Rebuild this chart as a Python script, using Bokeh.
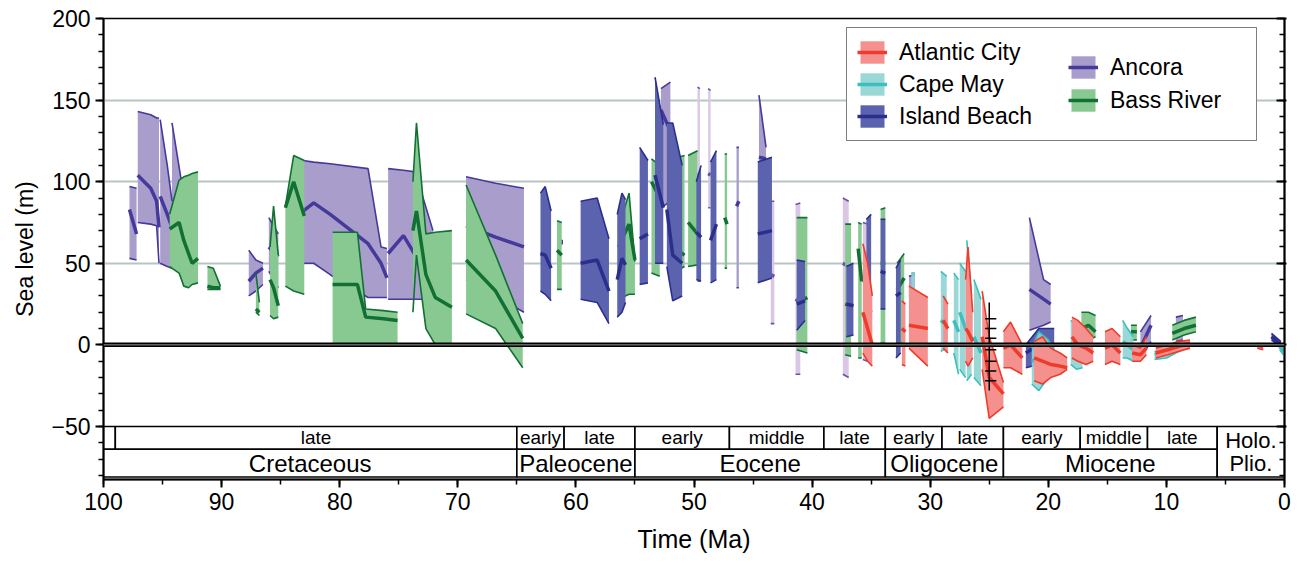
from bokeh.plotting import figure
from bokeh.models import Range1d, LinearAxis, FixedTicker, Legend, LegendItem, Span
from bokeh.embed import file_html
from bokeh.resources import INLINE
from bokeh.core.properties import value

FONT = "Liberation Sans"

# ---------------- data: each segment = ages, lower bound, best estimate, upper bound ----------------
ancora_age = [[97.8, 97.2], [97.1, 96.0, 95.5, 95.3], [95.2, 94.6, 94.2], [94.2, 93.4],
              [87.7, 87.1, 86.5], [86.0, 85.2], [83.1, 82.2, 80.8, 77.6, 76.5, 76.0],
              [75.9, 74.6, 73.6, 72.1], [69.3, 66.8, 64.4], [61.4, 61.1], [52.8, 52.0],
              [46.4, 46.2], [44.5, 43.9], [31.8, 31.3], [21.6, 20.4, 19.8], [12.2, 11.3], [9.2, 8.6]]
ancora_lo = [[53, 52], [75, 74, 73, 50], [50, 48, 47], [47, 46],
             [30, 33, 37], [45, 35], [50, 50, 43, 29, 29, 29],
             [28, 28, 28, 28], [40, 30, 20], [62, 62], [84, 88],
             [35, 35], [112, 112], [5, 5], [9, 12, 14], [-8, 2], [2, 3]]
ancora_mid = [[83, 68], [104, 96, 88, 72], [91, 80, 72], [72, 70],
              [39, 44, 47], [60, 54], [82, 87, 80, 62, 50, 41],
              [56, 67, 55, 45], [73, 66, 60], [63, 63], [144, 131],
              [85, 88], [115, 114], [30, 30], [34, 28, 25], [-2, 12], [11, 12]]
ancora_hi = [[97, 96], [143, 141, 139, 139], [138, 110, 88], [136, 100],
             [58, 52, 50], [78, 68], [113, 112, 111, 108, 60, 59],
             [108, 107, 106, 70], [103, 99, 96], [64, 64], [157, 161],
             [121, 121], [153, 121], [42, 43], [78, 40, 37], [8, 18], [17, 18]]

ancora_pale_age = [[49.7, 49.5], [48.8, 48.6], [43.5, 43.2], [41.4, 41.0], [37.4, 36.9], [35.7, 35.3]]
ancora_pale_lo = [[39, 39], [84, 84], [13, 13], [-18, -18], [-18, -20], [-9, -10]]
ancora_pale_mid = [[105, 104], [105, 104], [43, 42], [28, 26], [50, 48], [40, 36]]
ancora_pale_hi = [[158, 157], [157, 156], [88, 88], [86, 87], [90, 88], [75, 74]]

bass_age = [[94.4, 93.6, 93.2, 92.8, 92.5, 92.0], [91.2, 90.7, 90.1], [87.1, 86.8], [85.9, 85.6, 85.2],
            [84.6, 83.9, 83.0], [80.6, 78.5, 77.8, 76.3, 75.1], [73.8, 73.5, 72.7, 71.9, 70.5],
            [69.3, 66.8, 64.5], [61.6, 61.2], [56.4, 55.5, 55.0], [53.6, 52.9], [51.8, 50.8],
            [50.5, 49.7], [47.4, 47.2], [41.3, 40.4], [37.2, 36.7], [36.1, 35.8], [34.2, 33.8],
            [32.8, 32.2], [17.2, 16.6, 16.0], [13.0, 12.5], [9.5, 8.5, 7.5]]
bass_lo = [[48, 44, 36, 35, 37, 38], [34, 34, 34], [20, 18], [18, 16, 17],
           [36, 33, 31], [0, 0, 0, 0, 0], [20, 55, 10, 0, 0],
           [19, 10, -14], [34, 34], [28, 31, 31], [44, 42], [44, 48],
           [48, 49], [47, 47], [-3, -5], [-6, -7], [-8, -8], [1, 1],
           [0, 2], [2, 3, 5], [3, 3], [3, 6, 8]]
bass_mid = [[71, 75, 64, 56, 50, 53], [36, 35, 35], [22, 20], [40, 35, 24],
            [84, 100, 79], [37, 37, 17, 16, 15], [70, 82, 43, 29, 23],
            [52, 33, 4], [58, 55], [60, 74, 52], [100, 90], [60, 55],
            [75, 68], [78, 74], [26, 29], [25, 24], [59, 39], [50, 50],
            [34, 41], [10, 12, 8], [8, 8], [7, 10, 12]]
bass_hi = [[80, 101, 103, 104, 105, 106], [48, 47, 36], [44, 26], [60, 85, 55],
           [85, 116, 113], [69, 69, 22, 21, 20], [100, 136, 68, 69, 70],
           [98, 55, 13], [76, 75], [71, 93, 51], [114, 110], [114, 116],
           [116, 119], [117, 117], [78, 78], [74, 74], [75, 74], [83, 84],
           [50, 56], [20, 20, 18], [12, 12], [12, 15, 17]]

island_age = [[63.0, 62.6, 62.1], [59.6, 58.2, 57.2], [56.5, 56.1, 55.8], [54.6, 53.9], [53.3, 52.6],
              [52.3, 51.8, 51.0], [49.8, 49.4], [48.6, 48.1], [44.6, 43.4], [41.3, 40.6],
              [37.1, 36.5], [35.4, 35.0], [34.2, 33.8], [32.9, 32.5], [21.9, 20.8, 19.5], [1.1, 0.3]]
island_lo = [[33, 31, 27], [28, 26, 13], [17, 20, 26], [37, 38], [50, 50],
             [48, 27, 30], [40, 39], [38, 40], [38, 41], [9, 15],
             [5, 6], [-9, -8], [22, 22], [-8, -5], [-14, -12, -10], [3, -1]]
island_mid = [[56, 55, 47], [50, 52, 33], [40, 53, 49], [65, 68], [104, 84],
              [83, 55, 50], [69, 66], [64, 74], [68, 70], [25, 27],
              [25, 24], [25, 20], [45, 44], [30, 32], [-5, 0, 0], [5, 0]]
island_hi = [[93, 97, 82], [88, 90, 65], [80, 93, 89], [121, 113], [164, 135],
             [136, 136, 110], [100, 110], [112, 119], [112, 115], [52, 51],
             [48, 50], [77, 80], [77, 77], [47, 52], [0, 10, 10], [7, 2]]

cape_age = [[31.6, 31.3], [29.1, 28.6], [28.0, 27.6], [27.5, 27.0], [26.9, 26.5], [26.3, 25.7],
            [21.4, 20.8, 20.0, 19.5], [18.1, 17.6, 17.1], [13.7, 13.3, 12.8],
            [11.0, 10.0, 9.2, 8.3], [0.4, 0.1]]
cape_lo = [[20, 20], [-4, -2], [-5, -18], [-15, -20], [-22, -18], [-20, -25],
           [-24, -28, -20, -18], [-12, -15, -14], [-8, -8, -10],
           [-9, -8, -5, -2], [-3, -6]]
cape_mid = [[30, 28], [15, 12], [15, 8], [20, 10], [12, 4], [5, -5],
            [-10, -8, -12, -10], [0, -3, -5], [2, 0, -3],
            [-6, -4, -2, 0], [-1, -4]]
cape_hi = [[44, 44], [45, 42], [44, 40], [50, 45], [64, 30], [40, 28],
           [-2, 8, 3, -3], [15, 12, 8], [15, 10, 5],
           [-4, -2, 0, 2], [0, -3]]

atlantic_age = [[35.7, 35.3, 34.9], [32.4, 32.1], [31.8, 30.2], [28.9, 28.5], [27.0, 26.8, 26.4],
                [25.6, 25.0, 23.8], [23.8, 23.2, 22.2], [21.2, 20.5, 19.8, 19.0, 18.4],
                [18.0, 17.5, 16.8, 16.2], [15.2, 14.6, 13.9], [12.9, 12.2, 11.7],
                [10.9, 9.9, 9.0, 8.0], [2.3, 1.8]]
atlantic_lo = [[-5, -10, -13], [-12, -13], [-2, -13], [-2, -5], [-10, -13, -8],
               [-15, -45, -38], [-14, -14, -18], [-22, -24, -20, -18, -15],
               [-8, -10, -12, -10], [-12, -10, -12], [-10, -10, -6],
               [-8, -6, -4, -2], [-2, -3]]
atlantic_mid = [[20, 10, 0], [10, 8], [12, 10], [15, 10], [10, 8, 2],
                [5, -20, -30], [-2, 0, -8], [-8, -10, -12, -13, -14],
                [5, 0, -2, -5], [-2, 0, -5], [-5, -6, -2],
                [-5, -3, -1, 1], [0, -1]]
atlantic_hi = [[62, 50, 30], [27, 25], [36, 29], [30, 25], [40, 60, 20],
               [33, 5, -23], [8, 14, 0], [2, 5, -2, -5, -8],
               [17, 15, 10, 5], [8, 10, 5], [0, -2, 5],
               [-2, 0, 2, 3], [1, 0]]

# black reference bar near 25 Ma
bar_age = 25.0
bar_bottom, bar_top = -28, 26
bar_ticks = [16, 10, 4, -3, -10, -16, -22]

# geologic time scale
stage_names = ["", "late", "early", "late", "early", "middle", "late", "early", "late", "early", "middle", "late"]
stage_start = [100, 99, 65, 61, 55, 47, 39, 33.8, 29, 23.8, 17.3, 11.6]
stage_end = [99, 65, 61, 55, 47, 39, 33.8, 29, 23.8, 17.3, 11.6, 5.7]
epoch_names = ["Cretaceous", "Paleocene", "Eocene", "Oligocene", "Miocene"]
epoch_start = [100, 65, 55, 33.8, 23.8]
epoch_end = [65, 55, 33.8, 23.8, 5.7]
young_names = ["Holo.", "Plio."]
young_start, young_end = 5.7, 0

y_major = [-50, 0, 50, 100, 150, 200]

# ---------------- figure ----------------
p = figure(width=1296, height=561, output_backend="svg", toolbar_location=None,
           x_range=Range1d(100, 0), y_range=Range1d(-82.5, 200),
           min_border_left=103, min_border_right=12, min_border_top=18, min_border_bottom=82)
p.outline_line_color = "black"
p.outline_line_width = 1.5
p.xgrid.visible = False
p.ygrid.ticker = FixedTicker(ticks=[50, 100, 150])
p.ygrid.grid_line_color = "#b9c4c4"
p.ygrid.grid_line_width = 2

xt = FixedTicker(ticks=list(range(0, 101, 10)), minor_ticks=list(range(0, 101, 5)))
yt = FixedTicker(ticks=y_major, minor_ticks=list(range(-80, 201, 10)))
for ax in p.xaxis:
    ax.ticker = xt
    ax.axis_label = "Time (Ma)"
for ax in p.yaxis:
    ax.ticker = yt
    ax.axis_label = "Sea level (m)"
for ax in list(p.xaxis) + list(p.yaxis):
    ax.axis_line_width = 2
    ax.major_tick_line_width = 2
    ax.minor_tick_line_width = 1.5
    ax.major_tick_out = 8
    ax.major_tick_in = 0
    ax.minor_tick_out = 5
    ax.minor_tick_in = 0
    ax.major_label_text_font = FONT
    ax.major_label_text_font_size = "23px"
    ax.major_label_text_color = "black"
    ax.axis_label_text_font = FONT
    ax.axis_label_text_font_style = "normal"
    ax.axis_label_text_color = "black"
    ax.major_label_standoff = 5
p.xaxis.axis_label_text_font_size = "25px"
p.xaxis.axis_label_standoff = 12
p.yaxis.axis_label_text_font_size = "23px"
p.yaxis.axis_label_standoff = 10

rax = LinearAxis(ticker=yt, major_label_overrides={v: "" for v in y_major}, axis_line_width=2,
                 major_tick_in=8, major_tick_out=2, minor_tick_in=5, minor_tick_out=0,
                 major_label_standoff=0,
                 major_tick_line_width=2, minor_tick_line_width=1.5)
p.add_layout(rax, "right")


def polys(ages, lo, hi):
    xs = [list(a) + list(a)[::-1] for a in ages]
    ys = [list(h) + list(l)[::-1] for h, l in zip(hi, lo)]
    return xs, ys


def site(ages, lo, mid, hi, fill, line, alpha=1.0):
    xs, ys = polys(ages, lo, hi)
    patch = p.patches(xs, ys, fill_color=fill, fill_alpha=alpha, line_alpha=0)
    p.multi_line(ages, lo, line_color=line, line_width=1.6)
    p.multi_line(ages, hi, line_color=line, line_width=1.6)
    mid_r = p.multi_line(ages, mid, line_color=line, line_width=3.5)
    return patch, mid_r


site(ancora_pale_age, ancora_pale_lo, ancora_pale_mid, ancora_pale_hi, "#d9c7e3", "#6b52a6")
an = site(ancora_age, ancora_lo, ancora_mid, ancora_hi, "#a99dcc", "#45399b")
br = site(bass_age, bass_lo, bass_mid, bass_hi, "#88c992", "#127035")
ib = site(island_age, island_lo, island_mid, island_hi, "#5b63ae", "#2c2e8e")
cm = site(cape_age, cape_lo, cape_mid, cape_hi, "#8fd4d4", "#3cbfbf", 0.9)
ac = site(atlantic_age, atlantic_lo, atlantic_mid, atlantic_hi, "#f4918e", "#ee3b2b")

# black bar
p.segment(x0=[bar_age], y0=[bar_bottom], x1=[bar_age], y1=[bar_top], line_color="black", line_width=1.5)
p.segment(x0=[bar_age + 0.35] * len(bar_ticks), y0=bar_ticks, x1=[bar_age - 0.6] * len(bar_ticks),
          y1=bar_ticks, line_color="black", line_width=1.5)

# zero line
p.add_layout(Span(location=0, dimension="width", line_color="black", line_width=4.5))
p.add_layout(Span(location=0, dimension="width", line_color="#9a9a9a", line_width=1))

# time scale
p.quad(left=stage_start, right=stage_end, top=-50, bottom=-64, fill_color="white",
       line_color="black", line_width=1.6)
p.quad(left=epoch_start, right=epoch_end, top=-64, bottom=-81, fill_color="white",
       line_color="black", line_width=1.6)
p.quad(left=[young_start], right=[young_end], top=-50, bottom=-81, fill_color="white",
       line_color="black", line_width=1.6)
p.text(x=[(a + b) / 2 for a, b in zip(stage_start, stage_end)], y=[-57] * len(stage_names),
       text=stage_names, text_align="center", text_baseline="middle",
       text_font=value(FONT), text_font_size="19px", text_color="black")
p.text(x=[(a + b) / 2 for a, b in zip(epoch_start, epoch_end)], y=[-72.5] * len(epoch_names),
       text=epoch_names, text_align="center", text_baseline="middle",
       text_font=value(FONT), text_font_size="24px", text_color="black")
p.text(x=[(young_start + young_end) / 2] * 2, y=[-58.5, -73], text=young_names,
       text_align="center", text_baseline="middle",
       text_font=value(FONT), text_font_size="22px", text_color="black")

# legends
leg1 = Legend(items=[LegendItem(label="Atlantic City", renderers=list(ac)),
                     LegendItem(label="Cape May", renderers=list(cm)),
                     LegendItem(label="Island Beach", renderers=list(ib))],
              location=(743, 338), margin=0, padding=10, spacing=4,
              glyph_width=30, glyph_height=28, label_height=28, label_width=347, label_standoff=12,
              label_text_font=FONT, label_text_font_size="23px", label_text_color="black",
              border_line_color="black", border_line_width=1.5,
              background_fill_color="white", background_fill_alpha=1)
leg2 = Legend(items=[LegendItem(label="Ancora", renderers=list(an)),
                     LegendItem(label="Bass River", renderers=list(br))],
              location=(965, 365), margin=0, padding=0, spacing=5,
              glyph_width=30, glyph_height=28, label_height=28, label_standoff=12,
              label_text_font=FONT, label_text_font_size="23px", label_text_color="black",
              border_line_alpha=0, background_fill_alpha=0)
p.add_layout(leg1)
p.add_layout(leg2)

open("out.html", "w").write(file_html(p, INLINE))
